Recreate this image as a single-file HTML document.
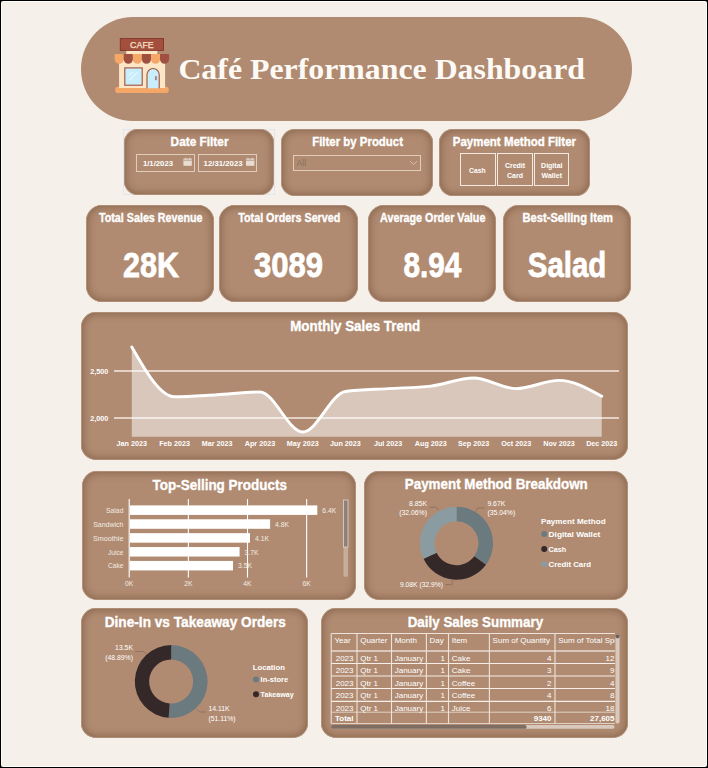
<!DOCTYPE html>
<html><head><meta charset="utf-8"><style>
html,body{margin:0;padding:0;}
body{width:708px;height:768px;position:relative;overflow:hidden;background:#000;}
.frame{position:absolute;left:1px;top:1px;width:706px;height:766px;background:#FFFEF6;border-radius:2px;}
.page{position:absolute;left:2px;top:2px;width:704px;height:764px;background:#F5F0EA;}
.hdr{position:absolute;left:81px;top:17px;width:551px;height:104px;border-radius:52px;background:#B08B71;}
.card{position:absolute;background:#B08B71;box-shadow:inset 0 0 0 0.8px rgba(190,156,132,0.9), inset 0 0 9px 1px rgba(70,40,20,0.45);}
.ibox{position:absolute;border:1px solid rgba(240,225,212,0.75);box-sizing:border-box;}
.btn{position:absolute;border:1.5px solid #F4EAE2;box-sizing:border-box;}
.ol{position:absolute;border:1px solid #E2E6EA;box-sizing:border-box;}
svg{position:absolute;left:0;top:0;}
</style></head><body>
<div class="frame"></div><div class="page"></div>
<div class="ol" style="left:123px;top:128.8px;width:152px;height:66.6px;"></div>
<div class="hdr"></div>
<div class="card" style="left:124px;top:129.1px;width:150px;height:65.9px;border-radius:14px;"></div><div class="card" style="left:281px;top:128.9px;width:152px;height:67.1px;border-radius:14px;"></div><div class="card" style="left:438.5px;top:128.9px;width:151.5px;height:67.29999999999998px;border-radius:14px;"></div><div class="card" style="left:86.3px;top:205.2px;width:127.7px;height:97.0px;border-radius:16px;"></div><div class="card" style="left:219.2px;top:205.2px;width:138.8px;height:97.0px;border-radius:16px;"></div><div class="card" style="left:368.4px;top:205.2px;width:127.20000000000005px;height:97.19999999999999px;border-radius:16px;"></div><div class="card" style="left:503.4px;top:205.2px;width:127.20000000000005px;height:97.0px;border-radius:16px;"></div><div class="card" style="left:81.3px;top:312.3px;width:546.7px;height:148.0px;border-radius:15px;"></div><div class="card" style="left:81.8px;top:471px;width:274.2px;height:129px;border-radius:15px;"></div><div class="card" style="left:363.5px;top:470.5px;width:264.5px;height:129.70000000000005px;border-radius:15px;"></div><div class="card" style="left:81.3px;top:608.3px;width:227.0px;height:130.10000000000002px;border-radius:15px;"></div><div class="card" style="left:321.3px;top:608.4px;width:307.09999999999997px;height:130.0px;border-radius:15px;"></div>
<div class="ibox" style="left:136.3px;top:154.2px;width:58.5px;height:17.4px;"></div>
<div class="ibox" style="left:198.2px;top:154.2px;width:58.6px;height:17.4px;"></div>
<div class="ibox" style="left:293px;top:154.5px;width:127.7px;height:16.2px;"></div>
<div class="btn" style="left:459.5px;top:153px;width:36px;height:33.2px;"></div>
<div class="btn" style="left:497px;top:153px;width:35.8px;height:33.2px;"></div>
<div class="btn" style="left:534.2px;top:153px;width:35.1px;height:33.2px;"></div>
<svg width="708" height="768" viewBox="0 0 708 768">
<rect x="115.1" y="86.8" width="53.7" height="6.2" rx="3.1" fill="#F4A766"/>
<rect x="119.1" y="60" width="46" height="28" fill="#FDE6C6"/>
<rect x="126.3" y="50" width="31" height="5" fill="#FDE6C6"/>
<path d="M114.70,54 h9.07 v5.3 a4.53,4.5 0 0 1 -9.07,0 Z" fill="#F4A766"/>
<path d="M123.77,54 h9.07 v5.3 a4.53,4.5 0 0 1 -9.07,0 Z" fill="#A0503F"/>
<path d="M132.83,54 h9.07 v5.3 a4.53,4.5 0 0 1 -9.07,0 Z" fill="#F4A766"/>
<path d="M141.90,54 h9.07 v5.3 a4.53,4.5 0 0 1 -9.07,0 Z" fill="#A0503F"/>
<path d="M150.97,54 h9.07 v5.3 a4.53,4.5 0 0 1 -9.07,0 Z" fill="#F4A766"/>
<path d="M160.03,54 h9.07 v5.3 a4.53,4.5 0 0 1 -9.07,0 Z" fill="#A0503F"/>
<rect x="120.3" y="38.6" width="43.2" height="11.8" fill="#A44F3E" stroke="#7E3528" stroke-width="0.9"/>
<text x="141.9" y="48.4" font-size="9.9" text-anchor="middle" fill="#F6E2C9" stroke="#F6E2C9" stroke-width="0.25" font-family="'Liberation Sans', 'DejaVu Sans', sans-serif" textLength="23.6" lengthAdjust="spacingAndGlyphs">CAFE</text>
<rect x="124.8" y="67.9" width="17.4" height="17.3" fill="#C9EEFB" stroke="#A0503F" stroke-width="1.1"/>
<line x1="129.2" y1="75.4" x2="132.7" y2="71.9" stroke="#FFFFFF" stroke-width="1"/>
<line x1="129.3" y1="80.3" x2="137.2" y2="72.4" stroke="#FFFFFF" stroke-width="1"/>
<path d="M147,88.3 V74.6 a6.1,6.1 0 0 1 12.2,0 V88.3" fill="#C9EEFB" stroke="#A0503F" stroke-width="1.1"/>
<rect x="155.4" y="76.2" width="1.1" height="4" fill="#8A3B2E"/>
<text x="178.4" y="78.6" font-size="30.2" text-anchor="start" font-weight="bold" fill="#FDFAF6" font-family="'Liberation Serif', 'DejaVu Serif', serif" textLength="406.6" lengthAdjust="spacingAndGlyphs">Café Performance Dashboard</text>
<text x="170.6" y="146" font-size="12.4" text-anchor="start" font-weight="bold" fill="#FFFFFF" font-family="'Liberation Sans', 'DejaVu Sans', sans-serif" textLength="57.9" lengthAdjust="spacingAndGlyphs" stroke="#fff" stroke-width="0.35">Date Filter</text>
<text x="312.2" y="146.1" font-size="12.4" text-anchor="start" font-weight="bold" fill="#FFFFFF" font-family="'Liberation Sans', 'DejaVu Sans', sans-serif" textLength="90.8" lengthAdjust="spacingAndGlyphs" stroke="#fff" stroke-width="0.35">Filter by Product</text>
<text x="452.8" y="146.1" font-size="12.4" text-anchor="start" font-weight="bold" fill="#FFFFFF" font-family="'Liberation Sans', 'DejaVu Sans', sans-serif" textLength="123.2" lengthAdjust="spacingAndGlyphs" stroke="#fff" stroke-width="0.35">Payment Method Filter</text>
<text x="142.9" y="166" font-size="7.3" text-anchor="start" font-weight="bold" fill="#FFFFFF" font-family="'Liberation Sans', 'DejaVu Sans', sans-serif" textLength="30.1" lengthAdjust="spacingAndGlyphs">1/1/2023</text>
<text x="203.6" y="166" font-size="7.3" text-anchor="start" font-weight="bold" fill="#FFFFFF" font-family="'Liberation Sans', 'DejaVu Sans', sans-serif" textLength="39.0" lengthAdjust="spacingAndGlyphs">12/31/2023</text>
<text x="296.6" y="166.4" font-size="8.2" text-anchor="start" font-weight="normal" fill="#86705F" font-family="'Liberation Sans', 'DejaVu Sans', sans-serif" textLength="9.6" lengthAdjust="spacingAndGlyphs">All</text>
<text x="469.1" y="172.6" font-size="7" text-anchor="start" font-weight="bold" fill="#FFFFFF" font-family="'Liberation Sans', 'DejaVu Sans', sans-serif" textLength="16.6" lengthAdjust="spacingAndGlyphs">Cash</text>
<text x="515" y="167.7" font-size="7" text-anchor="middle" font-weight="bold" fill="#FFFFFF" font-family="'Liberation Sans', 'DejaVu Sans', sans-serif">Credit</text>
<text x="515" y="177.8" font-size="7" text-anchor="middle" font-weight="bold" fill="#FFFFFF" font-family="'Liberation Sans', 'DejaVu Sans', sans-serif">Card</text>
<text x="551.8" y="167.7" font-size="7" text-anchor="middle" font-weight="bold" fill="#FFFFFF" font-family="'Liberation Sans', 'DejaVu Sans', sans-serif">Digital</text>
<text x="551.8" y="177.8" font-size="7" text-anchor="middle" font-weight="bold" fill="#FFFFFF" font-family="'Liberation Sans', 'DejaVu Sans', sans-serif">Wallet</text>
<text x="99" y="222.2" font-size="12.2" text-anchor="start" font-weight="bold" fill="#FFFFFF" font-family="'Liberation Sans', 'DejaVu Sans', sans-serif" textLength="103.5" lengthAdjust="spacingAndGlyphs" stroke="#fff" stroke-width="0.35">Total Sales Revenue</text>
<text x="238.2" y="222.2" font-size="12.2" text-anchor="start" font-weight="bold" fill="#FFFFFF" font-family="'Liberation Sans', 'DejaVu Sans', sans-serif" textLength="102.2" lengthAdjust="spacingAndGlyphs" stroke="#fff" stroke-width="0.35">Total Orders Served</text>
<text x="380.1" y="222.2" font-size="12.2" text-anchor="start" font-weight="bold" fill="#FFFFFF" font-family="'Liberation Sans', 'DejaVu Sans', sans-serif" textLength="105.3" lengthAdjust="spacingAndGlyphs" stroke="#fff" stroke-width="0.35">Average Order Value</text>
<text x="522.5" y="222.2" font-size="12.2" text-anchor="start" font-weight="bold" fill="#FFFFFF" font-family="'Liberation Sans', 'DejaVu Sans', sans-serif" textLength="90.5" lengthAdjust="spacingAndGlyphs" stroke="#fff" stroke-width="0.35">Best-Selling Item</text>
<text x="123" y="276.7" font-size="35.6" text-anchor="start" font-weight="bold" fill="#FFFFFF" font-family="'Liberation Sans', 'DejaVu Sans', sans-serif" textLength="56" lengthAdjust="spacingAndGlyphs" stroke="#fff" stroke-width="0.8">28K</text>
<text x="254" y="276.7" font-size="35.6" text-anchor="start" font-weight="bold" fill="#FFFFFF" font-family="'Liberation Sans', 'DejaVu Sans', sans-serif" textLength="69" lengthAdjust="spacingAndGlyphs" stroke="#fff" stroke-width="0.8">3089</text>
<text x="403.4" y="276.7" font-size="35.6" text-anchor="start" font-weight="bold" fill="#FFFFFF" font-family="'Liberation Sans', 'DejaVu Sans', sans-serif" textLength="57.9" lengthAdjust="spacingAndGlyphs" stroke="#fff" stroke-width="0.8">8.94</text>
<text x="527.8" y="276.7" font-size="35.6" text-anchor="start" font-weight="bold" fill="#FFFFFF" font-family="'Liberation Sans', 'DejaVu Sans', sans-serif" textLength="78.4" lengthAdjust="spacingAndGlyphs" stroke="#fff" stroke-width="0.8">Salad</text>
<text x="290.2" y="331.2" font-size="15.5" text-anchor="start" font-weight="bold" fill="#FFFFFF" font-family="'Liberation Sans', 'DejaVu Sans', sans-serif" textLength="130.1" lengthAdjust="spacingAndGlyphs" stroke="#fff" stroke-width="0.35">Monthly Sales Trend</text>
<text x="152.5" y="489.7" font-size="15.5" text-anchor="start" font-weight="bold" fill="#FFFFFF" font-family="'Liberation Sans', 'DejaVu Sans', sans-serif" textLength="134.5" lengthAdjust="spacingAndGlyphs" stroke="#fff" stroke-width="0.35">Top-Selling Products</text>
<text x="404.8" y="489.4" font-size="15.5" text-anchor="start" font-weight="bold" fill="#FFFFFF" font-family="'Liberation Sans', 'DejaVu Sans', sans-serif" textLength="183.0" lengthAdjust="spacingAndGlyphs" stroke="#fff" stroke-width="0.35">Payment Method Breakdown</text>
<text x="104.7" y="627.1" font-size="15.5" text-anchor="start" font-weight="bold" fill="#FFFFFF" font-family="'Liberation Sans', 'DejaVu Sans', sans-serif" textLength="181.2" lengthAdjust="spacingAndGlyphs" stroke="#fff" stroke-width="0.35">Dine-In vs Takeaway Orders</text>
<text x="407.7" y="627.4" font-size="15.5" text-anchor="start" font-weight="bold" fill="#FFFFFF" font-family="'Liberation Sans', 'DejaVu Sans', sans-serif" textLength="135.4" lengthAdjust="spacingAndGlyphs" stroke="#fff" stroke-width="0.35">Daily Sales Summary</text>
<line x1="114" y1="371" x2="619" y2="371" stroke="#F3E9E1" stroke-width="1.3"/>
<line x1="114" y1="418" x2="619" y2="418" stroke="#F3E9E1" stroke-width="1.3"/>
<path d="M131.80,347.00 C146.04,371.90 160.28,396.80 174.52,396.80 C188.76,396.80 203.00,395.50 217.24,394.70 C231.48,393.90 245.72,392.00 259.96,392.00 C274.20,392.00 288.44,432.00 302.68,432.00 C316.92,432.00 331.16,393.43 345.40,391.50 C359.64,389.57 373.88,389.50 388.12,388.60 C402.36,387.70 416.60,387.77 430.84,386.10 C445.08,384.43 459.32,378.00 473.56,378.00 C487.80,378.00 502.04,388.60 516.28,388.60 C530.52,388.60 544.76,380.40 559.00,380.40 C573.24,380.40 587.48,388.35 601.72,396.30 L601.72,436.7 L131.80,436.7 Z" fill="#FFFFFF" fill-opacity="0.52"/>
<path d="M131.80,347.00 C146.04,371.90 160.28,396.80 174.52,396.80 C188.76,396.80 203.00,395.50 217.24,394.70 C231.48,393.90 245.72,392.00 259.96,392.00 C274.20,392.00 288.44,432.00 302.68,432.00 C316.92,432.00 331.16,393.43 345.40,391.50 C359.64,389.57 373.88,389.50 388.12,388.60 C402.36,387.70 416.60,387.77 430.84,386.10 C445.08,384.43 459.32,378.00 473.56,378.00 C487.80,378.00 502.04,388.60 516.28,388.60 C530.52,388.60 544.76,380.40 559.00,380.40 C573.24,380.40 587.48,388.35 601.72,396.30" fill="none" stroke="#FFFFFF" stroke-width="2.9" stroke-linecap="round"/>
<text x="108.3" y="373.6" font-size="7.2" text-anchor="end" font-weight="bold" fill="#FFFFFF" font-family="'Liberation Sans', 'DejaVu Sans', sans-serif">2,500</text>
<text x="108.3" y="420.6" font-size="7.2" text-anchor="end" font-weight="bold" fill="#FFFFFF" font-family="'Liberation Sans', 'DejaVu Sans', sans-serif">2,000</text>
<text x="131.8" y="446" font-size="7.2" text-anchor="middle" font-weight="bold" fill="#FFFFFF" font-family="'Liberation Sans', 'DejaVu Sans', sans-serif">Jan 2023</text>
<text x="174.52" y="446" font-size="7.2" text-anchor="middle" font-weight="bold" fill="#FFFFFF" font-family="'Liberation Sans', 'DejaVu Sans', sans-serif">Feb 2023</text>
<text x="217.24" y="446" font-size="7.2" text-anchor="middle" font-weight="bold" fill="#FFFFFF" font-family="'Liberation Sans', 'DejaVu Sans', sans-serif">Mar 2023</text>
<text x="259.96" y="446" font-size="7.2" text-anchor="middle" font-weight="bold" fill="#FFFFFF" font-family="'Liberation Sans', 'DejaVu Sans', sans-serif">Apr 2023</text>
<text x="302.68" y="446" font-size="7.2" text-anchor="middle" font-weight="bold" fill="#FFFFFF" font-family="'Liberation Sans', 'DejaVu Sans', sans-serif">May 2023</text>
<text x="345.4" y="446" font-size="7.2" text-anchor="middle" font-weight="bold" fill="#FFFFFF" font-family="'Liberation Sans', 'DejaVu Sans', sans-serif">Jun 2023</text>
<text x="388.12" y="446" font-size="7.2" text-anchor="middle" font-weight="bold" fill="#FFFFFF" font-family="'Liberation Sans', 'DejaVu Sans', sans-serif">Jul 2023</text>
<text x="430.84" y="446" font-size="7.2" text-anchor="middle" font-weight="bold" fill="#FFFFFF" font-family="'Liberation Sans', 'DejaVu Sans', sans-serif">Aug 2023</text>
<text x="473.56" y="446" font-size="7.2" text-anchor="middle" font-weight="bold" fill="#FFFFFF" font-family="'Liberation Sans', 'DejaVu Sans', sans-serif">Sep 2023</text>
<text x="516.28" y="446" font-size="7.2" text-anchor="middle" font-weight="bold" fill="#FFFFFF" font-family="'Liberation Sans', 'DejaVu Sans', sans-serif">Oct 2023</text>
<text x="559.0" y="446" font-size="7.2" text-anchor="middle" font-weight="bold" fill="#FFFFFF" font-family="'Liberation Sans', 'DejaVu Sans', sans-serif">Nov 2023</text>
<text x="601.72" y="446" font-size="7.2" text-anchor="middle" font-weight="bold" fill="#FFFFFF" font-family="'Liberation Sans', 'DejaVu Sans', sans-serif">Dec 2023</text>
<line x1="129.20" y1="499" x2="129.20" y2="577.6" stroke="#FFFFFF" stroke-width="1.1"/>
<text x="129.2" y="585.8" font-size="6.8" text-anchor="middle" font-weight="normal" fill="#F3EBE4" font-family="'Liberation Sans', 'DejaVu Sans', sans-serif">0K</text>
<line x1="188.35" y1="499" x2="188.35" y2="577.6" stroke="#FFFFFF" stroke-width="1.1"/>
<text x="188.35" y="585.8" font-size="6.8" text-anchor="middle" font-weight="normal" fill="#F3EBE4" font-family="'Liberation Sans', 'DejaVu Sans', sans-serif">2K</text>
<line x1="247.50" y1="499" x2="247.50" y2="577.6" stroke="#FFFFFF" stroke-width="1.1"/>
<text x="247.5" y="585.8" font-size="6.8" text-anchor="middle" font-weight="normal" fill="#F3EBE4" font-family="'Liberation Sans', 'DejaVu Sans', sans-serif">4K</text>
<line x1="306.65" y1="499" x2="306.65" y2="577.6" stroke="#FFFFFF" stroke-width="1.1"/>
<text x="306.65" y="585.8" font-size="6.8" text-anchor="middle" font-weight="normal" fill="#F3EBE4" font-family="'Liberation Sans', 'DejaVu Sans', sans-serif">6K</text>
<rect x="130.0" y="505.40" width="187.30" height="9.5" fill="#FFFFFF"/>
<text x="106.1" y="512.9" font-size="7.4" text-anchor="start" font-weight="normal" fill="#F3EBE4" font-family="'Liberation Sans', 'DejaVu Sans', sans-serif" textLength="17.3" lengthAdjust="spacingAndGlyphs">Salad</text>
<text x="322.3" y="512.9" font-size="7.2" text-anchor="start" font-weight="normal" fill="#F3EBE4" font-family="'Liberation Sans', 'DejaVu Sans', sans-serif" textLength="13.9" lengthAdjust="spacingAndGlyphs">6.4K</text>
<rect x="130.0" y="519.28" width="140.10" height="9.5" fill="#FFFFFF"/>
<text x="93.2" y="526.78" font-size="7.4" text-anchor="start" font-weight="normal" fill="#F3EBE4" font-family="'Liberation Sans', 'DejaVu Sans', sans-serif" textLength="30.2" lengthAdjust="spacingAndGlyphs">Sandwich</text>
<text x="275.1" y="526.78" font-size="7.2" text-anchor="start" font-weight="normal" fill="#F3EBE4" font-family="'Liberation Sans', 'DejaVu Sans', sans-serif" textLength="13.9" lengthAdjust="spacingAndGlyphs">4.8K</text>
<rect x="130.0" y="533.16" width="120.00" height="9.5" fill="#FFFFFF"/>
<text x="93.0" y="540.66" font-size="7.4" text-anchor="start" font-weight="normal" fill="#F3EBE4" font-family="'Liberation Sans', 'DejaVu Sans', sans-serif" textLength="30.4" lengthAdjust="spacingAndGlyphs">Smoothie</text>
<text x="255" y="540.66" font-size="7.2" text-anchor="start" font-weight="normal" fill="#F3EBE4" font-family="'Liberation Sans', 'DejaVu Sans', sans-serif" textLength="13.9" lengthAdjust="spacingAndGlyphs">4.1K</text>
<rect x="130.0" y="547.04" width="109.60" height="9.5" fill="#FFFFFF"/>
<text x="108.1" y="554.54" font-size="7.4" text-anchor="start" font-weight="normal" fill="#F3EBE4" font-family="'Liberation Sans', 'DejaVu Sans', sans-serif" textLength="15.3" lengthAdjust="spacingAndGlyphs">Juice</text>
<text x="244.6" y="554.54" font-size="7.2" text-anchor="start" font-weight="normal" fill="#F3EBE4" font-family="'Liberation Sans', 'DejaVu Sans', sans-serif" textLength="13.9" lengthAdjust="spacingAndGlyphs">3.7K</text>
<rect x="130.0" y="560.92" width="103.00" height="9.5" fill="#FFFFFF"/>
<text x="108.1" y="568.42" font-size="7.4" text-anchor="start" font-weight="normal" fill="#F3EBE4" font-family="'Liberation Sans', 'DejaVu Sans', sans-serif" textLength="15.3" lengthAdjust="spacingAndGlyphs">Cake</text>
<text x="238" y="568.42" font-size="7.2" text-anchor="start" font-weight="normal" fill="#F3EBE4" font-family="'Liberation Sans', 'DejaVu Sans', sans-serif" textLength="13.9" lengthAdjust="spacingAndGlyphs">3.5K</text>
<rect x="343.5" y="500" width="4.5" height="77" rx="2.2" fill="#FFFFFF" fill-opacity="0.3"/>
<rect x="343.5" y="500" width="4.5" height="47" fill="#8C827B" stroke="#E8DCD2" stroke-width="0.7"/>
<path d="M456.50,506.70 A36.5,36.5 0 0 1 485.98,564.73 L474.27,556.18 A22,22 0 0 0 456.50,521.20 Z" fill="#6B7A7E"/>
<path d="M485.98,564.73 A36.5,36.5 0 0 1 423.53,558.87 L436.63,552.64 A22,22 0 0 0 474.27,556.18 Z" fill="#342828"/>
<path d="M423.53,558.87 A36.5,36.5 0 0 1 456.50,506.70 L456.50,521.20 A22,22 0 0 0 436.63,552.64 Z" fill="#8A9CA1"/>
<polyline points="429.4,507.2 436.6,507.2 438.6,510.4" fill="none" stroke="#8A6E5C" stroke-width="0.8"/>
<polyline points="484.6,508 477.4,508 476,511.4" fill="none" stroke="#8A6E5C" stroke-width="0.8"/>
<polyline points="452.2,579.8 452.2,584.6 445,584.6" fill="none" stroke="#8A6E5C" stroke-width="0.8"/>
<text x="427" y="506.4" font-size="6.85" text-anchor="end" font-weight="normal" fill="#FFFFFF" font-family="'Liberation Sans', 'DejaVu Sans', sans-serif">8.85K</text>
<text x="427" y="515.4" font-size="6.85" text-anchor="end" font-weight="normal" fill="#FFFFFF" font-family="'Liberation Sans', 'DejaVu Sans', sans-serif">(32.06%)</text>
<text x="487.4" y="506.4" font-size="6.85" text-anchor="start" font-weight="normal" fill="#FFFFFF" font-family="'Liberation Sans', 'DejaVu Sans', sans-serif">9.67K</text>
<text x="487.4" y="515.4" font-size="6.85" text-anchor="start" font-weight="normal" fill="#FFFFFF" font-family="'Liberation Sans', 'DejaVu Sans', sans-serif">(35.04%)</text>
<text x="400" y="587.3" font-size="6.9" text-anchor="start" font-weight="normal" fill="#FFFFFF" font-family="'Liberation Sans', 'DejaVu Sans', sans-serif" textLength="43" lengthAdjust="spacingAndGlyphs">9.08K (32.9%)</text>
<text x="541" y="523.7" font-size="7.6" text-anchor="start" font-weight="bold" fill="#FFFFFF" font-family="'Liberation Sans', 'DejaVu Sans', sans-serif" textLength="64.6" lengthAdjust="spacingAndGlyphs">Payment Method</text>
<circle cx="544.2" cy="534.00" r="3" fill="#6B7A7E"/>
<text x="548.6" y="536.7" font-size="7.8" text-anchor="start" font-weight="bold" fill="#FFFFFF" font-family="'Liberation Sans', 'DejaVu Sans', sans-serif" textLength="51.7" lengthAdjust="spacingAndGlyphs">Digital Wallet</text>
<circle cx="544.2" cy="549.10" r="3" fill="#342828"/>
<text x="548.6" y="551.8" font-size="7.8" text-anchor="start" font-weight="bold" fill="#FFFFFF" font-family="'Liberation Sans', 'DejaVu Sans', sans-serif" textLength="17.6" lengthAdjust="spacingAndGlyphs">Cash</text>
<circle cx="544.2" cy="564.20" r="3" fill="#8A9CA1"/>
<text x="548.6" y="566.9" font-size="7.8" text-anchor="start" font-weight="bold" fill="#FFFFFF" font-family="'Liberation Sans', 'DejaVu Sans', sans-serif" textLength="42.4" lengthAdjust="spacingAndGlyphs">Credit Card</text>
<path d="M171.20,645.10 A36.4,36.4 0 1 1 168.66,717.81 L169.67,703.45 A22,22 0 1 0 171.20,659.50 Z" fill="#6B7A7E"/>
<path d="M168.66,717.81 A36.4,36.4 0 0 1 171.20,645.10 L171.20,659.50 A22,22 0 0 0 169.67,703.45 Z" fill="#342828"/>
<polyline points="135,651.5 144,651.5 146.5,654.5" fill="none" stroke="#8A6E5C" stroke-width="0.8"/>
<polyline points="196.5,709 199.5,712 206,712" fill="none" stroke="#8A6E5C" stroke-width="0.8"/>
<text x="133" y="650.2" font-size="6.85" text-anchor="end" font-weight="normal" fill="#FFFFFF" font-family="'Liberation Sans', 'DejaVu Sans', sans-serif">13.5K</text>
<text x="133" y="660.4" font-size="6.85" text-anchor="end" font-weight="normal" fill="#FFFFFF" font-family="'Liberation Sans', 'DejaVu Sans', sans-serif">(48.89%)</text>
<text x="208.4" y="710.5" font-size="6.85" text-anchor="start" font-weight="normal" fill="#FFFFFF" font-family="'Liberation Sans', 'DejaVu Sans', sans-serif">14.11K</text>
<text x="208.4" y="720.7" font-size="6.85" text-anchor="start" font-weight="normal" fill="#FFFFFF" font-family="'Liberation Sans', 'DejaVu Sans', sans-serif">(51.11%)</text>
<text x="252.7" y="669.9" font-size="7.6" text-anchor="start" font-weight="bold" fill="#FFFFFF" font-family="'Liberation Sans', 'DejaVu Sans', sans-serif" textLength="32.2" lengthAdjust="spacingAndGlyphs">Location</text>
<circle cx="256" cy="679.50" r="3" fill="#6B7A7E"/>
<text x="260.6" y="682.2" font-size="7.6" text-anchor="start" font-weight="bold" fill="#FFFFFF" font-family="'Liberation Sans', 'DejaVu Sans', sans-serif" textLength="27.6" lengthAdjust="spacingAndGlyphs">In-store</text>
<circle cx="256" cy="694.30" r="3" fill="#342828"/>
<text x="260.6" y="697.0" font-size="7.6" text-anchor="start" font-weight="bold" fill="#FFFFFF" font-family="'Liberation Sans', 'DejaVu Sans', sans-serif" textLength="33.2" lengthAdjust="spacingAndGlyphs">Takeaway</text>
<clipPath id="tclip"><rect x="330" y="630" width="285" height="96"/></clipPath>
<g clip-path="url(#tclip)"><line x1="331.2" y1="633.5" x2="640" y2="633.5" stroke="#EDE3DA" stroke-width="1"/><rect x="331.2" y="650" width="310" height="2" fill="#D9C8BA"/><line x1="331.2" y1="663.5" x2="640" y2="663.5" stroke="#F6EEE8" stroke-width="1.2"/><line x1="331.2" y1="676" x2="640" y2="676" stroke="#F6EEE8" stroke-width="1.2"/><line x1="331.2" y1="688.5" x2="640" y2="688.5" stroke="#F6EEE8" stroke-width="1.2"/><line x1="331.2" y1="701.4" x2="640" y2="701.4" stroke="#F6EEE8" stroke-width="1.2"/><line x1="331.2" y1="712.2" x2="640" y2="712.2" stroke="#EDE3DA" stroke-width="0.8"/><line x1="331.2" y1="723.5" x2="640" y2="723.5" stroke="#EDE3DA" stroke-width="0.8"/><line x1="331.2" y1="633.5" x2="331.2" y2="723.5" stroke="#EDE3DA" stroke-width="1.1"/><line x1="357" y1="633.5" x2="357" y2="723.5" stroke="#EDE3DA" stroke-width="1.1"/><line x1="391.5" y1="633.5" x2="391.5" y2="723.5" stroke="#EDE3DA" stroke-width="1.1"/><line x1="426.4" y1="633.5" x2="426.4" y2="723.5" stroke="#EDE3DA" stroke-width="1.1"/><line x1="448.5" y1="633.5" x2="448.5" y2="723.5" stroke="#EDE3DA" stroke-width="1.1"/><line x1="489.4" y1="633.5" x2="489.4" y2="723.5" stroke="#EDE3DA" stroke-width="1.1"/><line x1="555" y1="633.5" x2="555" y2="723.5" stroke="#EDE3DA" stroke-width="1.1"/><text x="334.4" y="642.9" font-size="8" text-anchor="start" font-weight="normal" fill="#FFFFFF" font-family="'Liberation Sans', 'DejaVu Sans', sans-serif">Year</text><text x="360.2" y="642.9" font-size="8" text-anchor="start" font-weight="normal" fill="#FFFFFF" font-family="'Liberation Sans', 'DejaVu Sans', sans-serif">Quarter</text><text x="394.7" y="642.9" font-size="8" text-anchor="start" font-weight="normal" fill="#FFFFFF" font-family="'Liberation Sans', 'DejaVu Sans', sans-serif">Month</text><text x="429.59999999999997" y="642.9" font-size="8" text-anchor="start" font-weight="normal" fill="#FFFFFF" font-family="'Liberation Sans', 'DejaVu Sans', sans-serif">Day</text><text x="451.7" y="642.9" font-size="8" text-anchor="start" font-weight="normal" fill="#FFFFFF" font-family="'Liberation Sans', 'DejaVu Sans', sans-serif">Item</text><text x="492.59999999999997" y="642.9" font-size="8" text-anchor="start" font-weight="normal" fill="#FFFFFF" font-family="'Liberation Sans', 'DejaVu Sans', sans-serif">Sum of Quantity</text><text x="558.2" y="642.9" font-size="8" text-anchor="start" font-weight="normal" fill="#FFFFFF" font-family="'Liberation Sans', 'DejaVu Sans', sans-serif">Sum of Total Spent</text><text x="353.5" y="660.9" font-size="8" text-anchor="end" font-weight="normal" fill="#FFFFFF" font-family="'Liberation Sans', 'DejaVu Sans', sans-serif">2023</text><text x="360.2" y="660.9" font-size="8" text-anchor="start" font-weight="normal" fill="#FFFFFF" font-family="'Liberation Sans', 'DejaVu Sans', sans-serif">Qtr 1</text><text x="394.7" y="660.9" font-size="8" text-anchor="start" font-weight="normal" fill="#FFFFFF" font-family="'Liberation Sans', 'DejaVu Sans', sans-serif">January</text><text x="445.0" y="660.9" font-size="8" text-anchor="end" font-weight="normal" fill="#FFFFFF" font-family="'Liberation Sans', 'DejaVu Sans', sans-serif">1</text><text x="451.7" y="660.9" font-size="8" text-anchor="start" font-weight="normal" fill="#FFFFFF" font-family="'Liberation Sans', 'DejaVu Sans', sans-serif">Cake</text><text x="551.5" y="660.9" font-size="8" text-anchor="end" font-weight="normal" fill="#FFFFFF" font-family="'Liberation Sans', 'DejaVu Sans', sans-serif">4</text><text x="614.5" y="660.9" font-size="8" text-anchor="end" font-weight="normal" fill="#FFFFFF" font-family="'Liberation Sans', 'DejaVu Sans', sans-serif">12</text><text x="353.5" y="673" font-size="8" text-anchor="end" font-weight="normal" fill="#FFFFFF" font-family="'Liberation Sans', 'DejaVu Sans', sans-serif">2023</text><text x="360.2" y="673" font-size="8" text-anchor="start" font-weight="normal" fill="#FFFFFF" font-family="'Liberation Sans', 'DejaVu Sans', sans-serif">Qtr 1</text><text x="394.7" y="673" font-size="8" text-anchor="start" font-weight="normal" fill="#FFFFFF" font-family="'Liberation Sans', 'DejaVu Sans', sans-serif">January</text><text x="445.0" y="673" font-size="8" text-anchor="end" font-weight="normal" fill="#FFFFFF" font-family="'Liberation Sans', 'DejaVu Sans', sans-serif">1</text><text x="451.7" y="673" font-size="8" text-anchor="start" font-weight="normal" fill="#FFFFFF" font-family="'Liberation Sans', 'DejaVu Sans', sans-serif">Cake</text><text x="551.5" y="673" font-size="8" text-anchor="end" font-weight="normal" fill="#FFFFFF" font-family="'Liberation Sans', 'DejaVu Sans', sans-serif">3</text><text x="614.5" y="673" font-size="8" text-anchor="end" font-weight="normal" fill="#FFFFFF" font-family="'Liberation Sans', 'DejaVu Sans', sans-serif">9</text><text x="353.5" y="685.5" font-size="8" text-anchor="end" font-weight="normal" fill="#FFFFFF" font-family="'Liberation Sans', 'DejaVu Sans', sans-serif">2023</text><text x="360.2" y="685.5" font-size="8" text-anchor="start" font-weight="normal" fill="#FFFFFF" font-family="'Liberation Sans', 'DejaVu Sans', sans-serif">Qtr 1</text><text x="394.7" y="685.5" font-size="8" text-anchor="start" font-weight="normal" fill="#FFFFFF" font-family="'Liberation Sans', 'DejaVu Sans', sans-serif">January</text><text x="445.0" y="685.5" font-size="8" text-anchor="end" font-weight="normal" fill="#FFFFFF" font-family="'Liberation Sans', 'DejaVu Sans', sans-serif">1</text><text x="451.7" y="685.5" font-size="8" text-anchor="start" font-weight="normal" fill="#FFFFFF" font-family="'Liberation Sans', 'DejaVu Sans', sans-serif">Coffee</text><text x="551.5" y="685.5" font-size="8" text-anchor="end" font-weight="normal" fill="#FFFFFF" font-family="'Liberation Sans', 'DejaVu Sans', sans-serif">2</text><text x="614.5" y="685.5" font-size="8" text-anchor="end" font-weight="normal" fill="#FFFFFF" font-family="'Liberation Sans', 'DejaVu Sans', sans-serif">4</text><text x="353.5" y="697.7" font-size="8" text-anchor="end" font-weight="normal" fill="#FFFFFF" font-family="'Liberation Sans', 'DejaVu Sans', sans-serif">2023</text><text x="360.2" y="697.7" font-size="8" text-anchor="start" font-weight="normal" fill="#FFFFFF" font-family="'Liberation Sans', 'DejaVu Sans', sans-serif">Qtr 1</text><text x="394.7" y="697.7" font-size="8" text-anchor="start" font-weight="normal" fill="#FFFFFF" font-family="'Liberation Sans', 'DejaVu Sans', sans-serif">January</text><text x="445.0" y="697.7" font-size="8" text-anchor="end" font-weight="normal" fill="#FFFFFF" font-family="'Liberation Sans', 'DejaVu Sans', sans-serif">1</text><text x="451.7" y="697.7" font-size="8" text-anchor="start" font-weight="normal" fill="#FFFFFF" font-family="'Liberation Sans', 'DejaVu Sans', sans-serif">Coffee</text><text x="551.5" y="697.7" font-size="8" text-anchor="end" font-weight="normal" fill="#FFFFFF" font-family="'Liberation Sans', 'DejaVu Sans', sans-serif">4</text><text x="614.5" y="697.7" font-size="8" text-anchor="end" font-weight="normal" fill="#FFFFFF" font-family="'Liberation Sans', 'DejaVu Sans', sans-serif">8</text><text x="353.5" y="710.5" font-size="8" text-anchor="end" font-weight="normal" fill="#FFFFFF" font-family="'Liberation Sans', 'DejaVu Sans', sans-serif">2023</text><text x="360.2" y="710.5" font-size="8" text-anchor="start" font-weight="normal" fill="#FFFFFF" font-family="'Liberation Sans', 'DejaVu Sans', sans-serif">Qtr 1</text><text x="394.7" y="710.5" font-size="8" text-anchor="start" font-weight="normal" fill="#FFFFFF" font-family="'Liberation Sans', 'DejaVu Sans', sans-serif">January</text><text x="445.0" y="710.5" font-size="8" text-anchor="end" font-weight="normal" fill="#FFFFFF" font-family="'Liberation Sans', 'DejaVu Sans', sans-serif">1</text><text x="451.7" y="710.5" font-size="8" text-anchor="start" font-weight="normal" fill="#FFFFFF" font-family="'Liberation Sans', 'DejaVu Sans', sans-serif">Juice</text><text x="551.5" y="710.5" font-size="8" text-anchor="end" font-weight="normal" fill="#FFFFFF" font-family="'Liberation Sans', 'DejaVu Sans', sans-serif">6</text><text x="614.5" y="710.5" font-size="8" text-anchor="end" font-weight="normal" fill="#FFFFFF" font-family="'Liberation Sans', 'DejaVu Sans', sans-serif">18</text><text x="335" y="720.7" font-size="8" text-anchor="start" font-weight="bold" fill="#FFFFFF" font-family="'Liberation Sans', 'DejaVu Sans', sans-serif">Total</text><text x="551.5" y="720.7" font-size="8" text-anchor="end" font-weight="bold" fill="#FFFFFF" font-family="'Liberation Sans', 'DejaVu Sans', sans-serif">9340</text><text x="614.5" y="720.7" font-size="8" text-anchor="end" font-weight="bold" fill="#FFFFFF" font-family="'Liberation Sans', 'DejaVu Sans', sans-serif">27,605</text></g>
<rect x="331" y="725" width="283.5" height="3.8" rx="1.9" fill="#D8C9BC"/>
<rect x="331" y="725" width="195.7" height="3.8" rx="1.9" fill="#7E6D62"/>
<rect x="615.4" y="634" width="4.2" height="89.7" rx="2.1" fill="#D8C9BC"/>
<circle cx="617.5" cy="636.3" r="2.1" fill="#6F625A"/>
<rect x="183.4" y="158.6" width="8.4" height="7.2" fill="#E9DDD1"/>
<rect x="183.4" y="159.6" width="8.4" height="1.2" fill="#B8A494"/>
<rect x="184.9" y="157.8" width="1" height="1.6" fill="#E9DDD1"/>
<rect x="189.3" y="157.8" width="1" height="1.6" fill="#E9DDD1"/>
<rect x="246" y="158.6" width="8.4" height="7.2" fill="#E9DDD1"/>
<rect x="246" y="159.6" width="8.4" height="1.2" fill="#B8A494"/>
<rect x="247.5" y="157.8" width="1" height="1.6" fill="#E9DDD1"/>
<rect x="251.9" y="157.8" width="1" height="1.6" fill="#E9DDD1"/>
<polyline points="410.2,161.2 413.6,164.5 417,161.2" fill="none" stroke="#D9C6B7" stroke-width="0.9"/>
</svg>
</body></html>
